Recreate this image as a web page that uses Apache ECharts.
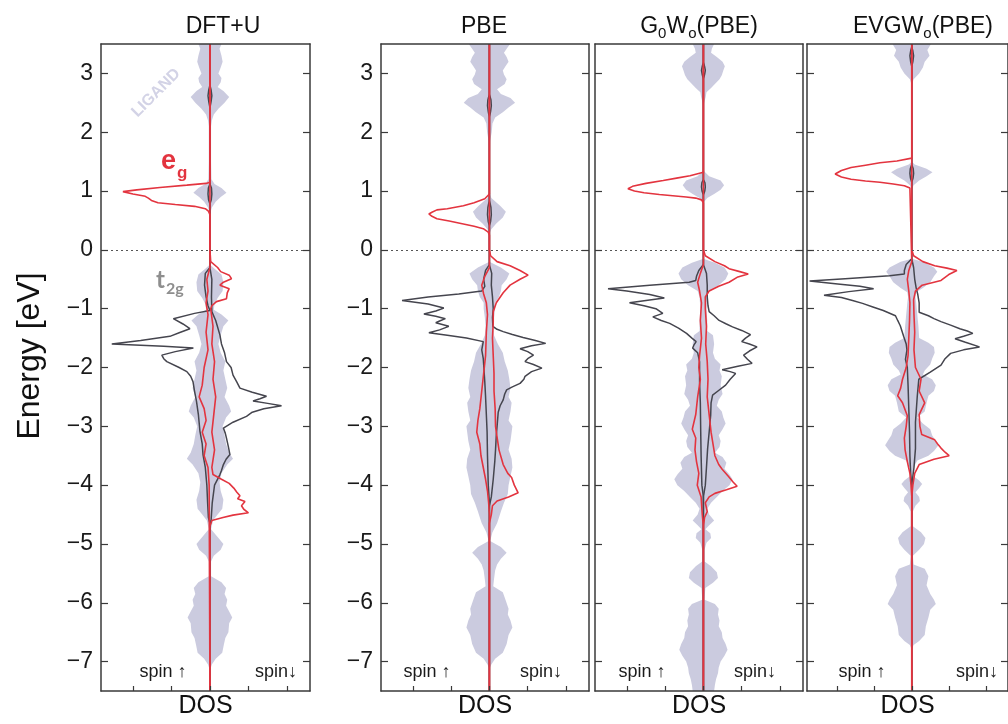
<!DOCTYPE html>
<html>
<head>
<meta charset="utf-8">
<script src="https://cdn.jsdelivr.net/npm/echarts@6.0.0/dist/echarts.min.js"></script>
<style>
  html, body { margin: 0; padding: 0; background: #fff; }
  #chart { width: 1008px; height: 724px; }
</style>
</head>
<body>
<div id="chart"></div>
<script>
// Projected density of states, four methods. Each list is [energy (eV), DOS].
// Ligand: half-width of the symmetric shaded profile.
// Spin-up curves are plotted to the left (negative DOS), spin-down to the right.

const energyTicks = [-7, -6, -5, -4, -3, -2, -1, 0, 1, 2, 3];
const dosTicks = [-2, -1, 0, 1, 2];
const panelTitles = ['DFT+U', 'PBE', 'G0Wo(PBE)', 'EVGWo(PBE)'];

// ---------- DFT+U ----------
const ligDftu = [
  [3.5,0.3],[3.42,0.25],[3.3,0.3],[3.2,0.33],[3.1,0.28],[3.0,0.22],[2.92,0.3],[2.85,0.28],[2.77,0.2],[2.7,0.35],
  [2.6,0.5],[2.5,0.38],[2.4,0.22],[2.3,0.1],[2.2,0.05],[2.1,0.03],[1.5,0.03],[1.2,0.04],[1.12,0.12],[1.05,0.3],
  [0.97,0.43],[0.9,0.28],[0.82,0.15],[0.72,0.05],[0.6,0.0],
  [-0.25,0.0],[-0.32,0.12],[-0.42,0.3],[-0.55,0.35],[-0.7,0.33],[-0.82,0.2],[-0.92,0.12],[-1.02,0.1],[-1.1,0.3],
  [-1.2,0.48],[-1.3,0.35],[-1.45,0.28],[-1.6,0.22],[-1.75,0.28],[-1.9,0.4],[-2.05,0.35],[-2.2,0.4],[-2.35,0.45],
  [-2.5,0.38],[-2.65,0.5],[-2.75,0.55],[-2.85,0.42],[-3.0,0.33],[-3.15,0.38],[-3.3,0.42],[-3.45,0.5],[-3.55,0.6],
  [-3.65,0.45],[-3.8,0.3],[-3.95,0.25],[-4.1,0.28],[-4.25,0.35],[-4.4,0.32],[-4.5,0.2],[-4.6,0.08],[-4.75,0.03],
  [-4.88,0.2],[-5.0,0.35],[-5.1,0.28],[-5.2,0.1],[-5.3,0.03],[-5.55,0.03],[-5.65,0.3],[-5.75,0.42],[-5.85,0.38],
  [-5.95,0.45],[-6.05,0.42],[-6.15,0.5],[-6.25,0.58],[-6.35,0.5],[-6.5,0.48],[-6.6,0.4],[-6.72,0.36],[-6.85,0.32],
  [-6.95,0.15],[-7.05,0.05],[-7.15,0.0]
];
const egUpDftu = [
  [3.5,0],[1.15,0],[1.13,0.1],[1.1,0.6],[1.06,1.3],[1.02,1.9],[0.99,2.26],[0.95,2.0],[0.91,1.68],[0.88,1.6],
  [0.84,1.52],[0.8,1.35],[0.77,0.9],[0.74,0.4],[0.7,0.12],[0.66,0.04],[0.6,0],
  [-0.3,0],[-0.5,0.08],[-0.7,0.05],[-0.9,0.1],[-1.1,0.05],[-1.4,0.1],[-1.7,0.05],[-2.0,0.15],[-2.3,0.2],
  [-2.5,0.28],[-2.7,0.15],[-2.9,0.1],[-3.1,0.2],[-3.3,0.1],[-3.5,0.15],[-3.7,0.05],[-4.0,0.02],[-7.5,0]
];
const egDownDftu = [
  [3.5,0],[0.0,0],[-0.2,0.02],[-0.3,0.2],[-0.37,0.28],[-0.43,0.5],[-0.49,0.56],[-0.55,0.35],[-0.6,0.26],
  [-0.66,0.5],[-0.73,0.45],[-0.83,0.43],[-0.88,0.17],[-0.95,0.05],[-1.0,0.02],[-1.3,0.08],[-1.6,0.05],
  [-1.9,0.12],[-2.2,0.08],[-2.5,0.15],[-2.8,0.1],[-3.1,0.05],[-3.4,0.12],[-3.7,0.05],[-3.82,0.08],[-3.9,0.3],
  [-3.97,0.5],[-4.05,0.62],[-4.12,0.7],[-4.18,0.78],[-4.23,0.72],[-4.28,0.91],[-4.35,0.82],[-4.41,0.88],
  [-4.47,1.0],[-4.51,0.6],[-4.55,0.34],[-4.6,0.05],[-4.7,0],[-7.5,0]
];
const t2gUpDftu = [
  [3.5,0],[2.8,0],[2.72,0.03],[2.62,0.05],[2.52,0.03],[2.42,0],[1.12,0],[1.05,0.04],[0.95,0.05],[0.85,0.035],[0.78,0],
  [-0.3,0],[-0.4,0.12],[-0.6,0.14],[-0.8,0.1],[-0.95,0.05],[-1.03,0],[-1.08,0.4],[-1.17,0.95],[-1.26,0.7],
  [-1.34,0.52],[-1.41,0.8],[-1.47,1.04],[-1.54,1.8],[-1.6,2.55],[-1.64,1.2],[-1.67,0.43],[-1.73,0.9],
  [-1.79,1.25],[-1.85,1.2],[-1.9,1.12],[-2.0,0.8],[-2.07,0.6],[-2.15,0.5],[-2.24,0.44],[-2.4,0.4],[-2.57,0.35],
  [-2.8,0.3],[-3.08,0.26],[-3.3,0.2],[-3.48,0.18],[-3.7,0.12],[-4.0,0.08],[-4.3,0.06],[-4.55,0.04],[-4.65,0],[-7.5,0]
];
const t2gDownDftu = [
  [3.5,0],[2.8,0],[2.72,0.03],[2.62,0.05],[2.52,0.03],[2.42,0],[1.12,0],[1.05,0.04],[0.95,0.05],[0.85,0.035],[0.78,0],
  [-0.3,0],[-0.5,0.05],[-0.8,0.04],[-1.05,0.05],[-1.2,0.15],[-1.45,0.26],[-1.6,0.3],[-1.75,0.38],[-1.9,0.43],
  [-2.0,0.55],[-2.13,0.6],[-2.25,0.7],[-2.35,0.78],[-2.42,1.1],[-2.49,1.47],[-2.53,1.3],[-2.57,1.12],[-2.61,1.5],
  [-2.65,1.86],[-2.7,1.4],[-2.76,1.1],[-2.83,0.95],[-2.93,0.6],[-3.03,0.35],[-3.12,0.4],[-3.2,0.43],[-3.35,0.48],
  [-3.48,0.52],[-3.56,0.42],[-3.65,0.35],[-3.75,0.3],[-3.82,0.26],[-4.0,0.12],[-4.3,0.06],[-4.6,0.03],[-4.7,0],[-7.5,0]
];

// ---------- PBE ----------
const ligPbe = [
  [3.5,0.54],[3.42,0.45],[3.35,0.38],[3.28,0.45],[3.2,0.5],[3.12,0.42],[3.05,0.35],[2.98,0.38],[2.9,0.45],
  [2.82,0.4],[2.73,0.2],[2.65,0.3],[2.58,0.55],[2.5,0.67],[2.42,0.5],[2.34,0.35],[2.25,0.15],[2.15,0.08],
  [2.0,0.06],[1.85,0.02],[1.0,0.0],[0.88,0.05],[0.75,0.28],[0.65,0.43],[0.55,0.35],[0.45,0.18],[0.35,0.05],[0.28,0],
  [-0.2,0],[-0.3,0.3],[-0.4,0.52],[-0.5,0.45],[-0.6,0.32],[-0.7,0.3],[-0.8,0.25],[-0.9,0.15],[-1.0,0.15],
  [-1.15,0.12],[-1.3,0.1],[-1.45,0.12],[-1.6,0.22],[-1.75,0.35],[-1.9,0.4],[-2.05,0.48],[-2.2,0.52],[-2.35,0.55],
  [-2.5,0.5],[-2.6,0.58],[-2.75,0.55],[-2.9,0.5],[-3.0,0.6],[-3.1,0.58],[-3.25,0.55],[-3.4,0.5],[-3.55,0.58],
  [-3.7,0.6],[-3.85,0.55],[-4.0,0.5],[-4.15,0.48],[-4.3,0.38],[-4.45,0.3],[-4.55,0.25],[-4.65,0.2],[-4.8,0.08],
  [-4.95,0.02],[-5.05,0.3],[-5.15,0.45],[-5.25,0.3],[-5.35,0.2],[-5.45,0.15],[-5.6,0.12],[-5.72,0.1],[-5.82,0.35],
  [-5.95,0.42],[-6.1,0.5],[-6.2,0.48],[-6.3,0.55],[-6.42,0.6],[-6.55,0.5],[-6.7,0.45],[-6.85,0.35],[-6.95,0.15],
  [-7.05,0.05],[-7.12,0]
];
const egUpPbe = [
  [3.5,0],[0.95,0],[0.92,0.05],[0.87,0.12],[0.8,0.4],[0.75,0.68],[0.7,1.1],[0.68,1.37],[0.64,1.5],[0.61,1.58],
  [0.57,1.5],[0.53,1.37],[0.49,1.05],[0.44,0.68],[0.4,0.4],[0.36,0.16],[0.3,0.03],[0.25,0],
  [-0.3,0],[-0.45,0.12],[-0.6,0.2],[-0.75,0.15],[-0.9,0.08],[-1.1,0.05],[-1.4,0.08],[-1.8,0.1],[-2.1,0.15],
  [-2.4,0.2],[-2.7,0.25],[-2.9,0.3],[-3.1,0.33],[-3.3,0.25],[-3.5,0.22],[-3.7,0.16],[-3.9,0.1],[-4.1,0.05],
  [-4.3,0.02],[-4.5,0],[-7.5,0]
];
const egDownPbe = [
  [3.5,0],[0.0,0],[-0.1,0.03],[-0.2,0.2],[-0.27,0.54],[-0.35,0.8],[-0.43,1.01],[-0.5,0.8],[-0.6,0.54],
  [-0.73,0.36],[-0.9,0.18],[-1.05,0.1],[-1.24,0.1],[-1.5,0.08],[-1.8,0.1],[-2.1,0.12],[-2.4,0.12],[-2.7,0.15],
  [-3.0,0.16],[-3.14,0.19],[-3.4,0.25],[-3.65,0.36],[-3.8,0.48],[-3.87,0.58],[-4.0,0.65],[-4.13,0.75],[-4.2,0.5],
  [-4.27,0.2],[-4.35,0.08],[-4.5,0.05],[-4.65,0],[-7.5,0]
];
const t2gUpPbe = [
  [3.5,0],[2.65,0],[2.55,0.04],[2.45,0.05],[2.35,0.03],[2.25,0],[0.85,0],[0.72,0.04],[0.6,0.05],[0.48,0.03],[0.4,0],
  [-0.25,0],[-0.35,0.1],[-0.5,0.15],[-0.62,0.12],[-0.7,0.2],[-0.75,0.8],[-0.8,1.6],[-0.86,2.28],[-0.92,1.6],
  [-0.99,1.19],[-1.04,1.4],[-1.09,1.71],[-1.13,1.4],[-1.17,1.15],[-1.21,1.3],[-1.24,1.4],[-1.3,1.06],[-1.36,1.3],
  [-1.41,1.58],[-1.45,1.1],[-1.5,0.6],[-1.56,0.16],[-1.7,0.2],[-1.85,0.16],[-2.05,0.14],[-2.25,0.12],[-2.5,0.1],
  [-2.8,0.08],[-3.1,0.06],[-3.5,0.05],[-4.0,0.03],[-4.3,0],[-7.5,0]
];
const t2gDownPbe = [
  [3.5,0],[2.65,0],[2.55,0.04],[2.45,0.05],[2.35,0.03],[2.25,0],[0.85,0],[0.72,0.04],[0.6,0.05],[0.48,0.03],[0.4,0],
  [-0.25,0],[-0.4,0.06],[-0.6,0.05],[-0.8,0.08],[-1.0,0.1],[-1.15,0.08],[-1.3,0.09],[-1.35,0.2],[-1.39,0.36],
  [-1.44,0.6],[-1.49,0.88],[-1.54,1.2],[-1.59,1.47],[-1.63,1.1],[-1.68,0.8],[-1.73,1.0],[-1.79,1.15],[-1.85,1.0],
  [-1.9,0.93],[-1.95,1.15],[-2.01,1.37],[-2.07,1.1],[-2.15,0.93],[-2.2,0.9],[-2.27,0.8],[-2.33,0.6],[-2.38,0.45],
  [-2.45,0.4],[-2.55,0.36],[-2.65,0.28],[-2.76,0.23],[-3.0,0.2],[-3.15,0.18],[-3.4,0.16],[-3.6,0.14],[-3.9,0.1],
  [-4.2,0.05],[-4.35,0],[-7.5,0]
];

// ---------- G0W0(PBE) ----------
const ligG0w0 = [
  [3.5,0.28],[3.42,0.22],[3.35,0.2],[3.28,0.35],[3.2,0.5],[3.12,0.56],[3.05,0.52],[2.97,0.48],[2.9,0.42],
  [2.82,0.3],[2.75,0.2],[2.68,0.08],[2.6,0.06],[2.5,0.02],[2.4,0],[1.35,0],[1.25,0.15],[1.18,0.45],[1.1,0.54],
  [1.02,0.45],[0.95,0.28],[0.88,0.1],[0.8,0],
  [-0.15,0],[-0.22,0.3],[-0.3,0.55],[-0.4,0.65],[-0.5,0.58],[-0.6,0.4],[-0.7,0.15],[-0.8,0.1],[-1.0,0.08],
  [-1.2,0.1],[-1.38,0.1],[-1.45,0.25],[-1.6,0.28],[-1.75,0.25],[-1.85,0.3],[-1.95,0.45],[-2.05,0.42],[-2.15,0.48],
  [-2.3,0.45],[-2.45,0.5],[-2.55,0.4],[-2.65,0.35],[-2.75,0.48],[-2.85,0.52],[-2.95,0.58],[-3.05,0.5],[-3.15,0.4],
  [-3.25,0.45],[-3.35,0.42],[-3.45,0.3],[-3.52,0.5],[-3.62,0.6],[-3.72,0.55],[-3.82,0.68],[-3.9,0.76],[-4.0,0.68],
  [-4.1,0.5],[-4.2,0.35],[-4.3,0.2],[-4.4,0.1],[-4.5,0.15],[-4.6,0.28],[-4.68,0.15],[-4.75,0.05],[-4.82,0.18],
  [-4.9,0.2],[-4.98,0.08],[-5.1,0.03],[-5.3,0.03],[-5.38,0.2],[-5.48,0.35],[-5.58,0.38],[-5.66,0.25],[-5.75,0.05],
  [-5.95,0.03],[-6.02,0.3],[-6.1,0.4],[-6.2,0.38],[-6.3,0.42],[-6.4,0.4],[-6.5,0.48],[-6.6,0.5],[-6.7,0.58],
  [-6.8,0.63],[-6.9,0.55],[-7.0,0.45],[-7.1,0.4],[-7.2,0.38],[-7.3,0.33],[-7.4,0.3],[-7.5,0.28]
];
const egUpG0w0 = [
  [3.5,0],[1.32,0],[1.29,0.05],[1.26,0.35],[1.22,0.7],[1.18,1.05],[1.13,1.5],[1.08,1.85],[1.04,1.97],[1.0,1.8],
  [0.97,1.55],[0.94,1.15],[0.92,0.8],[0.9,0.45],[0.88,0.2],[0.85,0.05],[0.8,0],
  [-0.25,0],[-0.4,0.08],[-0.55,0.15],[-0.7,0.1],[-0.9,0.05],[-1.2,0.08],[-1.5,0.05],[-1.8,0.1],[-2.0,0.12],
  [-2.2,0.08],[-2.5,0.15],[-2.8,0.2],[-3.05,0.29],[-3.2,0.2],[-3.4,0.22],[-3.6,0.18],[-3.8,0.12],[-4.0,0.16],
  [-4.2,0.06],[-4.5,0.03],[-4.7,0],[-7.5,0]
];
const egDownG0w0 = [
  [3.5,0],[0.0,0],[-0.1,0.05],[-0.2,0.3],[-0.27,0.55],[-0.32,0.67],[-0.37,0.95],[-0.41,1.17],[-0.46,0.9],
  [-0.55,0.67],[-0.62,0.4],[-0.7,0.15],[-0.8,0.05],[-1.0,0.05],[-1.3,0.08],[-1.6,0.06],[-1.9,0.1],[-2.2,0.12],
  [-2.5,0.1],[-2.8,0.15],[-3.1,0.2],[-3.3,0.25],[-3.5,0.3],[-3.65,0.4],[-3.73,0.49],[-3.85,0.65],[-3.95,0.78],
  [-4.02,0.88],[-4.08,0.6],[-4.14,0.3],[-4.2,0.15],[-4.3,0.05],[-4.45,0.1],[-4.55,0.03],[-4.7,0],[-7.5,0]
];
const t2gUpG0w0 = [
  [3.5,0],[3.2,0],[3.12,0.03],[3.05,0.05],[2.98,0.03],[2.9,0],[1.2,0],[1.14,0.04],[1.07,0.05],[1.0,0.035],[0.93,0],
  [-0.25,0],[-0.35,0.12],[-0.45,0.18],[-0.52,0.2],[-0.55,0.37],[-0.6,1.4],[-0.66,2.49],[-0.7,2.0],[-0.76,1.4],
  [-0.82,1.02],[-0.86,1.5],[-0.9,1.93],[-0.95,1.55],[-1.0,1.24],[-1.08,1.06],[-1.14,1.32],[-1.2,1.1],[-1.25,0.88],
  [-1.33,0.65],[-1.42,0.44],[-1.5,0.3],[-1.56,0.19],[-1.62,0.25],[-1.67,0.28],[-1.75,0.15],[-1.9,0.1],[-2.25,0.1],
  [-2.6,0.08],[-3.1,0.07],[-3.5,0.06],[-4.0,0.04],[-4.2,0],[-7.5,0]
];
const t2gDownG0w0 = [
  [3.5,0],[3.2,0],[3.12,0.03],[3.05,0.05],[2.98,0.03],[2.9,0],[1.2,0],[1.14,0.04],[1.07,0.05],[1.0,0.035],[0.93,0],
  [-0.25,0],[-0.4,0.08],[-0.6,0.1],[-0.8,0.1],[-0.95,0.12],[-1.05,0.15],[-1.12,0.28],[-1.2,0.41],[-1.26,0.6],
  [-1.31,0.76],[-1.37,1.0],[-1.44,1.23],[-1.5,1.1],[-1.56,1.0],[-1.6,1.2],[-1.65,1.4],[-1.72,1.2],[-1.79,1.05],
  [-1.86,1.15],[-1.93,1.27],[-1.98,0.9],[-2.04,0.49],[-2.07,0.7],[-2.1,0.84],[-2.2,0.7],[-2.3,0.58],[-2.4,0.38],
  [-2.47,0.24],[-2.6,0.2],[-2.81,0.19],[-3.1,0.15],[-3.38,0.11],[-3.7,0.08],[-4.0,0.05],[-4.2,0],[-7.5,0]
];

// ---------- EVGW0(PBE) ----------
const ligEvgw = [
  [3.5,0.52],[3.4,0.42],[3.3,0.48],[3.2,0.35],[3.1,0.3],[3.0,0.2],[2.9,0.05],[2.8,0.0],[1.5,0.0],[1.45,0.08],
  [1.38,0.4],[1.32,0.56],[1.25,0.4],[1.18,0.2],[1.1,0.05],[1.02,0.0],
  [-0.15,0],[-0.2,0.3],[-0.3,0.6],[-0.37,0.69],[-0.45,0.6],[-0.55,0.5],[-0.65,0.3],[-0.72,0.12],[-0.8,0.1],
  [-0.9,0.12],[-1.1,0.15],[-1.3,0.18],[-1.5,0.2],[-1.58,0.45],[-1.65,0.6],[-1.75,0.62],[-1.85,0.55],[-1.95,0.5],
  [-2.05,0.35],[-2.12,0.3],[-2.2,0.55],[-2.3,0.65],[-2.4,0.6],[-2.48,0.45],[-2.6,0.4],[-2.75,0.35],[-2.85,0.15],
  [-2.95,0.3],[-3.05,0.5],[-3.15,0.55],[-3.25,0.65],[-3.32,0.72],[-3.42,0.6],[-3.5,0.45],[-3.58,0.15],[-3.7,0.05],
  [-3.85,0.05],[-3.92,0.2],[-3.98,0.28],[-4.05,0.2],[-4.12,0.1],[-4.2,0.2],[-4.27,0.22],[-4.35,0.1],[-4.45,0.03],
  [-4.7,0.03],[-4.8,0.25],[-4.9,0.37],[-5.0,0.33],[-5.1,0.2],[-5.2,0.03],[-5.35,0.05],[-5.42,0.35],[-5.55,0.45],
  [-5.7,0.4],[-5.85,0.5],[-5.95,0.6],[-6.02,0.65],[-6.12,0.5],[-6.25,0.45],[-6.4,0.38],[-6.55,0.35],[-6.65,0.2],
  [-6.72,0.05],[-6.8,0]
];
const egUpEvgw = [
  [3.5,0],[1.56,0],[1.54,0.05],[1.51,0.4],[1.48,0.86],[1.44,1.25],[1.4,1.64],[1.35,1.9],[1.29,2.07],[1.24,1.9],
  [1.2,1.64],[1.17,1.25],[1.15,0.86],[1.12,0.5],[1.09,0.2],[1.05,0.05],[1.02,0],
  [-0.2,0],[-0.35,0.08],[-0.5,0.12],[-0.7,0.08],[-0.9,0.05],[-1.2,0.06],[-1.5,0.08],[-1.8,0.1],[-2.0,0.15],
  [-2.2,0.25],[-2.35,0.3],[-2.48,0.38],[-2.6,0.25],[-2.82,0.12],[-3.0,0.15],[-3.2,0.2],[-3.4,0.18],[-3.6,0.12],
  [-3.8,0.05],[-4.0,0.02],[-4.2,0],[-7.5,0]
];
const egDownEvgw = [
  [3.5,0],[0.0,0],[-0.1,0.05],[-0.2,0.3],[-0.27,0.62],[-0.31,0.95],[-0.35,1.22],[-0.42,1.0],[-0.52,0.79],
  [-0.6,0.28],[-0.7,0.1],[-0.85,0.05],[-1.1,0.06],[-1.4,0.08],[-1.7,0.06],[-2.0,0.1],[-2.2,0.25],[-2.4,0.2],
  [-2.6,0.35],[-2.8,0.2],[-3.0,0.22],[-3.14,0.27],[-3.23,0.62],[-3.3,0.7],[-3.37,0.79],[-3.44,0.9],[-3.5,1.01],
  [-3.56,0.6],[-3.65,0.2],[-3.8,0.08],[-4.0,0.03],[-4.2,0],[-7.5,0]
];
const t2gUpEvgw = [
  [3.5,0],[3.45,0],[3.38,0.03],[3.3,0.05],[3.2,0.03],[3.12,0],[1.45,0],[1.38,0.04],[1.3,0.05],[1.22,0.035],[1.15,0],
  [-0.15,0],[-0.25,0.15],[-0.35,0.2],[-0.41,0.2],[-0.44,0.6],[-0.49,1.8],[-0.53,2.76],[-0.58,2.0],[-0.62,1.4],
  [-0.66,1.03],[-0.71,1.7],[-0.77,2.37],[-0.81,1.9],[-0.86,1.6],[-0.91,1.33],[-0.97,1.05],[-1.03,0.77],
  [-1.12,0.44],[-1.2,0.38],[-1.29,0.31],[-1.47,0.22],[-1.6,0.15],[-1.7,0.13],[-1.86,0.17],[-2.0,0.12],[-2.3,0.1],
  [-2.7,0.08],[-3.1,0.06],[-3.5,0.05],[-3.8,0.03],[-4.0,0],[-7.5,0]
];
const t2gDownEvgw = [
  [3.5,0],[3.45,0],[3.38,0.03],[3.3,0.05],[3.2,0.03],[3.12,0],[1.45,0],[1.38,0.04],[1.3,0.05],[1.22,0.035],[1.15,0],
  [-0.15,0],[-0.3,0.05],[-0.5,0.08],[-0.65,0.12],[-0.75,0.16],[-0.9,0.2],[-1.06,0.2],[-1.12,0.45],[-1.17,0.6],
  [-1.22,0.79],[-1.28,1.05],[-1.34,1.3],[-1.38,1.5],[-1.42,1.65],[-1.47,1.4],[-1.51,1.17],[-1.57,1.45],[-1.65,1.83],
  [-1.7,1.4],[-1.76,1.05],[-1.85,0.9],[-1.96,0.79],[-2.08,0.5],[-2.2,0.19],[-2.48,0.15],[-2.93,0.1],[-3.38,0.1],
  [-3.7,0.06],[-4.0,0],[-7.5,0]
];

const panels = [
  { lig: ligDftu, egUp: egUpDftu, egDown: egDownDftu, t2gUp: t2gUpDftu, t2gDown: t2gDownDftu },
  { lig: ligPbe, egUp: egUpPbe, egDown: egDownPbe, t2gUp: t2gUpPbe, t2gDown: t2gDownPbe },
  { lig: ligG0w0, egUp: egUpG0w0, egDown: egDownG0w0, t2gUp: t2gUpG0w0, t2gDown: t2gDownG0w0 },
  { lig: ligEvgw, egUp: egUpEvgw, egDown: egDownEvgw, t2gUp: t2gUpEvgw, t2gDown: t2gDownEvgw }
];

// ---------- layout & style ----------
const FONT = '"Liberation Sans", Arial, sans-serif';
const RED = '#e3343f';
const DARK = '#45454e';
const LIGAND_FILL = '#cbcbdf';
const FRAME = '#3a3a3a';
const gridBoxes = [
  { left: 101, width: 209 },
  { left: 381, width: 208 },
  { left: 595, width: 208 },
  { left: 807, width: 209 }
];
const titleX = [223, 484, 699, 923];
const spinLabelX = [[163, 276], [427, 541], [642, 755], [862, 977]];

const minusSign = v => String(v).replace('-', '\u2212');

const grids = gridBoxes.map(b => ({ left: b.left, width: b.width, top: 44, height: 650, containLabel: false }));

const xAxes = [];
const yAxes = [];
gridBoxes.forEach((b, i) => {
  xAxes.push({
    gridIndex: i, type: 'value', position: 'bottom', min: -2.83, max: 2.6, z: 10,
    axisLine: { show: true, onZero: false, lineStyle: { color: FRAME, width: 1.5 } },
    axisTick: { show: true, inside: true, length: 5, customValues: dosTicks, lineStyle: { color: FRAME, width: 1.2 } },
    axisLabel: { show: false }, splitLine: { show: false },
    name: 'DOS', nameLocation: 'middle', nameGap: 3,
    nameTextStyle: { fontSize: 25, color: '#111', fontFamily: FONT, verticalAlign: 'top' }
  });
  xAxes.push({
    gridIndex: i, type: 'value', position: 'top', min: -2.83, max: 2.6, z: 10,
    axisLine: { show: true, onZero: false, lineStyle: { color: FRAME, width: 1.5 } },
    axisTick: { show: false }, axisLabel: { show: false }, splitLine: { show: false }
  });
  yAxes.push({
    gridIndex: i, type: 'value', position: 'left', min: -7.5, max: 3.5, z: 10,
    axisLine: { show: true, onZero: false, lineStyle: { color: FRAME, width: 1.5 } },
    axisTick: { show: true, inside: true, length: 7, customValues: energyTicks, lineStyle: { color: FRAME, width: 1.2 } },
    axisLabel: {
      show: i < 2, customValues: energyTicks, formatter: minusSign, margin: 8,
      fontSize: 23, color: '#1a1a1a', fontFamily: FONT
    },
    splitLine: { show: false }
  });
  yAxes.push({
    gridIndex: i, type: 'value', position: 'right', min: -7.5, max: 3.5, z: 10,
    axisLine: { show: true, onZero: false, lineStyle: { color: FRAME, width: 1.5 } },
    axisTick: { show: true, inside: true, length: 7, customValues: energyTicks, lineStyle: { color: FRAME, width: 1.2 } },
    axisLabel: { show: false }, splitLine: { show: false }
  });
});

// symmetric shaded ligand profile, drawn as one polygon through the axis scales
function ligandRenderer(profile) {
  return function (params, api) {
    if (params.dataIndex !== 0) return null;
    const right = profile.map(([e, w]) => api.coord([w, e]));
    const left = profile.slice().reverse().map(([e, w]) => api.coord([-w, e]));
    return {
      type: 'polygon',
      shape: { points: right.concat(left) },
      style: { fill: LIGAND_FILL }
    };
  };
}

const toUp = arr => arr.map(([e, v]) => [-v, e]);
const toDown = arr => arr.map(([e, v]) => [v, e]);

const series = [];
panels.forEach((p, i) => {
  const axes = { xAxisIndex: 2 * i, yAxisIndex: 2 * i };
  series.push(Object.assign({
    type: 'custom', name: 'ligand', z: 1, clip: true,
    renderItem: ligandRenderer(p.lig),
    encode: { x: 0, y: 1 },
    data: p.lig.map(([e, w]) => [w, e]),
    markLine: {
      silent: true, symbol: 'none', animation: false,
      label: { show: false },
      lineStyle: { type: [2, 3], color: '#555', width: 1 },
      data: [{ yAxis: 0 }]
    }
  }, axes));
  const lineBase = { type: 'line', showSymbol: false, symbol: 'none', clip: true, animation: false };
  series.push(Object.assign({}, lineBase, axes, { name: 't2g up', z: 2, data: toUp(p.t2gUp), lineStyle: { color: DARK, width: 1.5 } }));
  series.push(Object.assign({}, lineBase, axes, { name: 't2g down', z: 2, data: toDown(p.t2gDown), lineStyle: { color: DARK, width: 1.5 } }));
  series.push(Object.assign({}, lineBase, axes, { name: 'eg up', z: 3, data: toUp(p.egUp), lineStyle: { color: RED, width: 1.6 } }));
  series.push(Object.assign({}, lineBase, axes, { name: 'eg down', z: 3, data: toDown(p.egDown), lineStyle: { color: RED, width: 1.6 } }));
});

// titles with subscripts
const titleRich = {
  n: { fontSize: 23, lineHeight: 28, fontFamily: FONT, fill: '#111' },
  s: { fontSize: 15, lineHeight: 10, fontFamily: FONT, fill: '#111', verticalAlign: 'bottom' }
};
const titleMarkup = [
  '{n|DFT+U}',
  '{n|PBE}',
  '{n|G}{s|0}{n|W}{s|o}{n|(PBE)}',
  '{n|EVGW}{s|o}{n|(PBE)}'
];

const graphic = [];
titleMarkup.forEach((t, i) => {
  graphic.push({ type: 'text', x: titleX[i], y: 27, z: 20,
    style: { text: t, rich: titleRich, align: 'center', verticalAlign: 'middle' } });
});
spinLabelX.forEach(([a, b]) => {
  graphic.push({ type: 'text', x: a, y: 672, z: 20,
    style: { text: 'spin \u2191', fontSize: 18, fontFamily: FONT, fill: '#1a1a1a', align: 'center', verticalAlign: 'middle' } });
  graphic.push({ type: 'text', x: b, y: 672, z: 20,
    style: { text: 'spin\u2193', fontSize: 18, fontFamily: FONT, fill: '#1a1a1a', align: 'center', verticalAlign: 'middle' } });
});
graphic.push({ type: 'text', x: 30, y: 356, rotation: Math.PI / 2, z: 20,
  style: { text: 'Energy [eV]', fontSize: 32, fontFamily: FONT, fill: '#111', align: 'center', verticalAlign: 'middle' } });
graphic.push({ type: 'text', x: 156, y: 93, rotation: Math.PI / 4, z: 20,
  style: { text: 'LIGAND', fontSize: 16, fontWeight: 'bold', fontFamily: FONT, fill: '#d3d3e6', align: 'center', verticalAlign: 'middle' } });
graphic.push({ type: 'text', x: 161, y: 162, z: 20,
  style: { text: 'e', fontSize: 27, fontWeight: 'bold', fontFamily: FONT, fill: RED, align: 'left', verticalAlign: 'middle' } });
graphic.push({ type: 'text', x: 177, y: 173, z: 20,
  style: { text: 'g', fontSize: 17, fontWeight: 'bold', fontFamily: FONT, fill: RED, align: 'left', verticalAlign: 'middle' } });
graphic.push({ type: 'text', x: 156, y: 280, z: 20,
  style: { text: 't', fontSize: 24, fontWeight: 'bold', fontFamily: 'Lato, "Open Sans", sans-serif', fill: '#8e8e8e', align: 'left', verticalAlign: 'middle' } });
graphic.push({ type: 'text', x: 166, y: 289, z: 20,
  style: { text: '2g', fontSize: 16, fontWeight: 'bold', fontFamily: 'Lato, "Open Sans", sans-serif', fill: '#8e8e8e', align: 'left', verticalAlign: 'middle' } });

const chart = echarts.init(document.getElementById('chart'), null, { renderer: 'canvas' });
chart.setOption({
  animation: false,
  backgroundColor: '#ffffff',
  grid: grids,
  xAxis: xAxes,
  yAxis: yAxes,
  series: series,
  graphic: graphic
});
</script>
</body>
</html>
